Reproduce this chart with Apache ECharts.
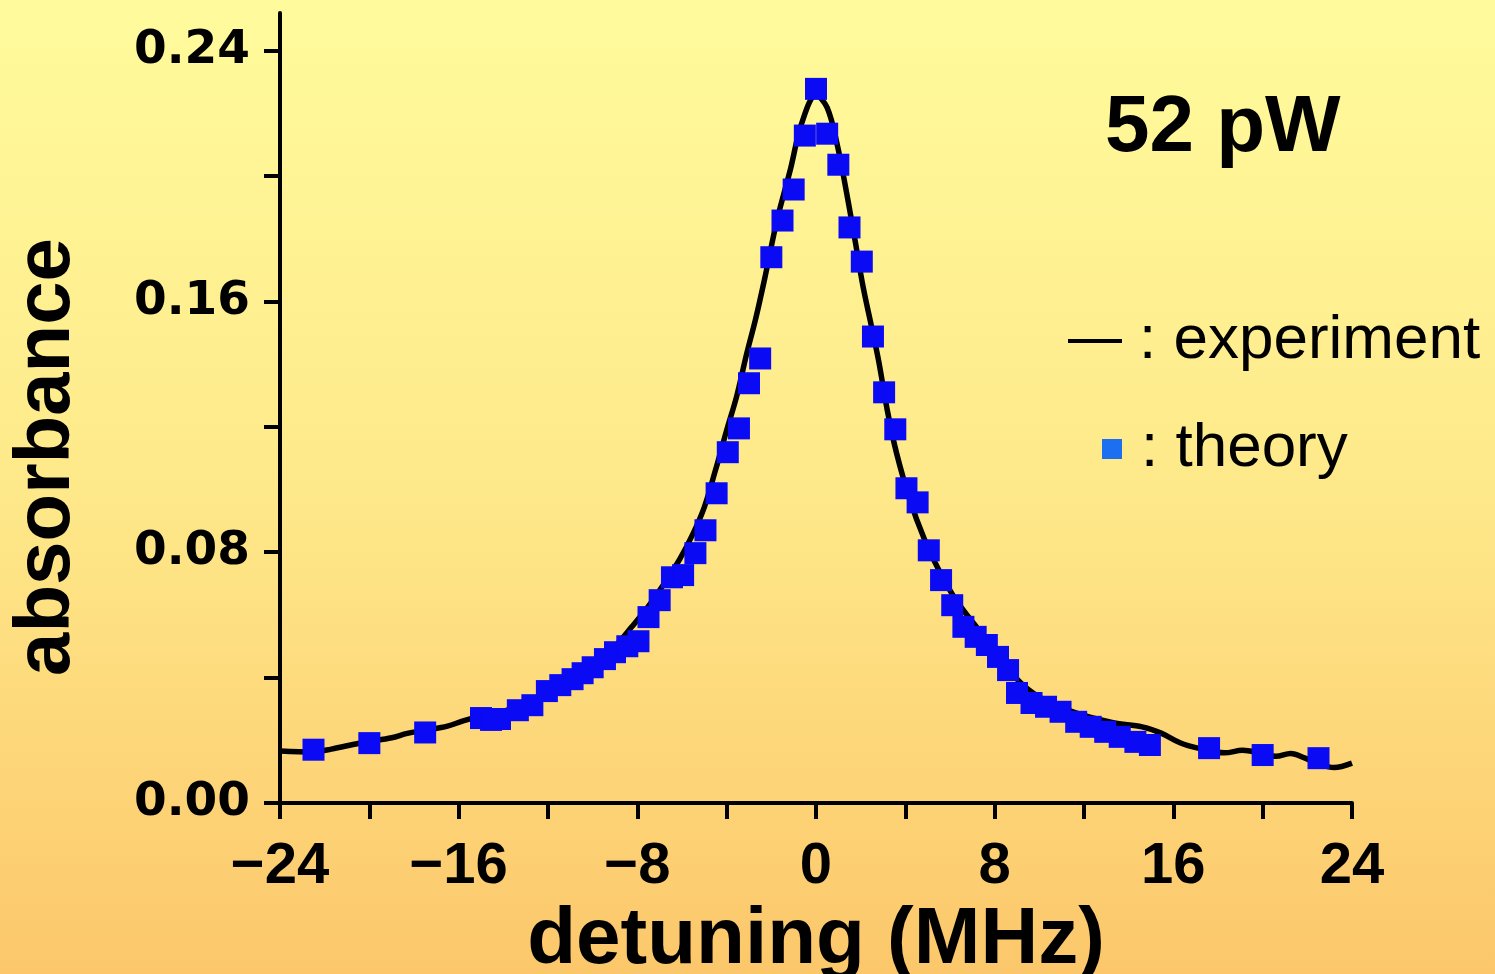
<!DOCTYPE html>
<html>
<head>
<meta charset="utf-8">
<script src="https://cdn.jsdelivr.net/npm/echarts@6/dist/echarts.min.js"></script>
<style>
html,body{margin:0;padding:0;}
#chart{width:1495px;height:974px;}
</style>
</head>
<body>
<div id="chart"></div>
<script>
// experiment (line) — detuning in MHz, absorbance
const expX = [-24, -22.5, -21.7, -20.5, -20.0, -19.0, -18.3, -17.5, -16.5, -15.8, -15.0, -14.0, -13.0, -12.0, -11.0, -10.0, -9.0, -8.25, -7.5, -6.8, -6.1, -5.5, -5.0, -4.5, -4.0, -3.55, -3.1, -2.7, -2.3, -1.75, -1.15, -0.65, 0, 0.5, 0.95, 1.4, 1.75, 2.1, 2.5, 2.8, 3.2, 3.6, 4.2, 4.85, 5.5, 6.2, 7.2, 8.15, 9.0, 10.0, 11.6, 13.3, 14.6, 15.45, 16.3, 17.1, 18.3, 19.1, 19.9, 20.6, 21.25, 21.9, 22.6, 23.2, 24];
const expY = [0.0166, 0.0163, 0.0172, 0.0190, 0.0196, 0.0208, 0.0222, 0.0232, 0.0245, 0.0262, 0.0277, 0.0292, 0.0318, 0.0355, 0.0393, 0.0437, 0.0500, 0.0562, 0.0628, 0.0700, 0.0778, 0.0860, 0.0944, 0.1062, 0.1189, 0.1298, 0.1434, 0.1545, 0.1672, 0.1858, 0.2020, 0.2166, 0.2258, 0.2218, 0.2100, 0.1935, 0.1794, 0.1650, 0.1515, 0.1412, 0.1250, 0.1118, 0.0968, 0.0842, 0.0743, 0.0655, 0.0560, 0.0478, 0.0395, 0.0338, 0.0288, 0.0256, 0.0243, 0.0223, 0.0192, 0.0175, 0.0160, 0.0168, 0.0159, 0.0149, 0.0158, 0.0143, 0.0122, 0.0113, 0.0127];

// theory (squares)
const thX = [-22.5, -20.0, -17.5, -15.0, -14.55, -14.15, -13.35, -12.7, -12.05, -11.45, -10.9, -10.45, -10.0, -9.45, -9.0, -8.45, -7.95, -7.5, -7.0, -6.45, -5.95, -5.4, -4.95, -4.45, -3.95, -3.45, -3.0, -2.5, -2.0, -1.5, -1.0, -0.5, 0, 0.5, 1.0, 1.5, 2.05, 2.55, 3.05, 3.55, 4.05, 4.55, 5.05, 5.6, 6.1, 6.6, 7.15, 7.65, 8.15, 8.6, 9.0, 9.65, 10.3, 10.95, 11.65, 12.3, 12.95, 13.6, 14.3, 14.95, 17.6, 20.0, 22.5];
const thY = [0.0170, 0.0191, 0.0225, 0.0271, 0.0265, 0.0268, 0.0296, 0.0312, 0.0357, 0.0376, 0.0395, 0.0414, 0.0433, 0.0459, 0.0481, 0.0500, 0.0516, 0.0593, 0.0647, 0.0720, 0.0727, 0.0797, 0.0870, 0.0988, 0.1119, 0.1195, 0.1339, 0.1418, 0.1741, 0.1858, 0.1957, 0.2129, 0.2278, 0.2135, 0.2036, 0.1836, 0.1727, 0.1488, 0.1310, 0.1192, 0.1004, 0.0959, 0.0806, 0.0711, 0.0631, 0.0562, 0.0530, 0.0504, 0.0466, 0.0424, 0.0351, 0.0319, 0.0307, 0.0291, 0.0259, 0.0243, 0.0227, 0.0211, 0.0195, 0.0185, 0.0175, 0.0153, 0.0143];

// ticks
const xTicks = [-24, -20, -16, -12, -8, -4, 0, 4, 8, 12, 16, 20, 24];
const xLabels = [-24, -16, -8, 0, 8, 16, 24];
const yTicks = [0, 0.04, 0.08, 0.12, 0.16, 0.20, 0.24];
const yLabels = [0, 0.08, 0.16, 0.24];

const FONT = 'Liberation Sans';
const chart = echarts.init(document.getElementById('chart'));
chart.setOption({
  animation: false,
  backgroundColor: {
    type: 'linear', x: 0, y: 0, x2: 0, y2: 1,
    colorStops: [
      {offset: 0, color: '#fffb9c'},
      {offset: 0.5, color: '#fee98a'},
      {offset: 1, color: '#fcc76b'}
    ]
  },
  title: {
    text: '52 pW', left: 1100, top: 84,
    textStyle: {fontFamily: FONT, fontSize: 80, fontWeight: 'bold', color: '#000'}
  },
  legend: [
    {
      data: ['experiment'], left: 1063, top: 305, selectedMode: false,
      icon: 'rect', itemWidth: 54, itemHeight: 4,
      formatter: n => ': ' + n,
      textStyle: {fontFamily: FONT, fontSize: 62, color: '#000', padding: [0, 0, 0, 12]}
    },
    {
      data: [{name: 'theory', itemStyle: {color: '#1b6ff0'}}], left: 1097, top: 413, selectedMode: false,
      icon: 'rect', itemWidth: 20, itemHeight: 20,
      formatter: n => ': ' + n,
      textStyle: {fontFamily: FONT, fontSize: 62, color: '#000', padding: [0, 0, 0, 14]}
    }
  ],
  grid: {left: 280, right: 143, top: 13, bottom: 171, containLabel: false, outerBoundsMode: 'none'},
  xAxis: {
    type: 'value', min: -24, max: 24, interval: 4,
    name: 'detuning (MHz)', nameLocation: 'middle', nameGap: 94,
    nameTextStyle: {fontFamily: FONT, fontSize: 80, fontWeight: 'bold', color: '#000'},
    axisLine: {onZero: false, lineStyle: {color: '#000', width: 4}},
    axisTick: {length: 16, lineStyle: {color: '#000', width: 4}, customValues: xTicks},
    axisLabel: {
      customValues: xLabels, margin: 64, verticalAlign: 'middle',
      fontFamily: FONT, fontSize: 58, fontWeight: 'bold', color: '#000',
      formatter: v => (v < 0 ? '\u2212' + Math.abs(v) : String(v))
    },
    splitLine: {show: false}
  },
  yAxis: {
    type: 'value', min: 0, max: 0.252,
    name: 'absorbance', nameLocation: 'middle', nameGap: 194, nameRotate: 90,
    nameTextStyle: {fontFamily: FONT, fontSize: 78, fontWeight: 'bold', color: '#000', padding: [0, 98, 0, 0]},
    axisLine: {onZero: false, lineStyle: {color: '#000', width: 4}},
    axisTick: {length: 16, lineStyle: {color: '#000', width: 4}, customValues: yTicks},
    axisLabel: {
      customValues: yLabels, margin: 30,
      fontFamily: 'DejaVu Sans', fontSize: 47, fontWeight: 'bold', color: '#000',
      formatter: v => v.toFixed(2)
    },
    splitLine: {show: false}
  },
  series: [
    {
      name: 'experiment', type: 'line', data: expX.map((x, i) => [x, expY[i]]),
      showSymbol: false, symbol: 'none', smooth: 0.35,
      lineStyle: {color: '#000', width: 5.5}, itemStyle: {color: '#000'}, z: 2
    },
    {
      name: 'theory', type: 'scatter', data: thX.map((x, i) => [x, thY[i]]),
      symbol: 'rect', symbolSize: 22,
      itemStyle: {color: '#0a0af5', opacity: 1}, z: 3
    }
  ]
});
</script>
</body>
</html>
